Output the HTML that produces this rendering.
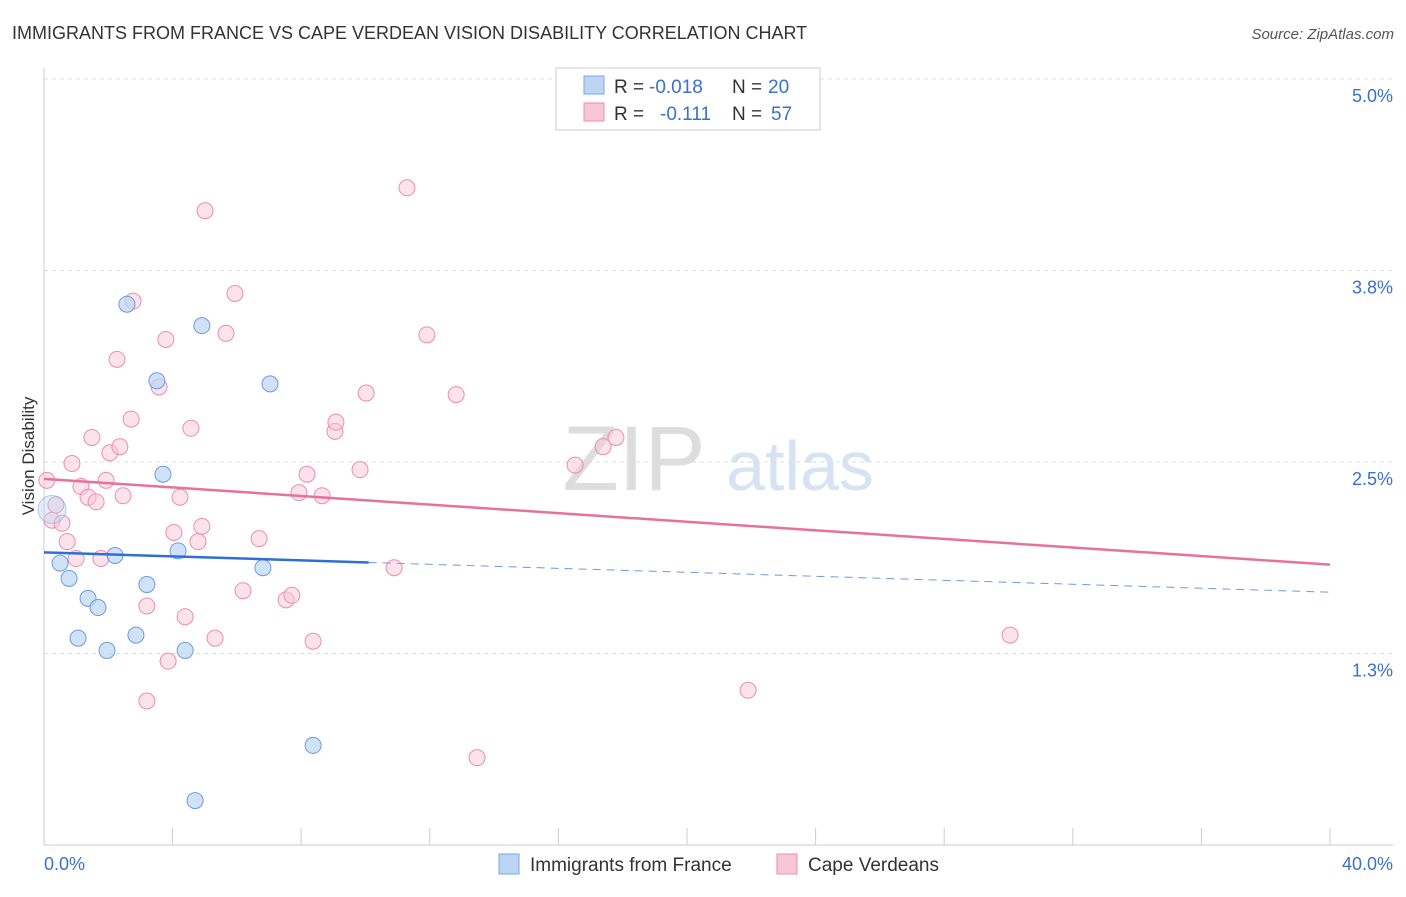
<!DOCTYPE html>
<html><head><meta charset="utf-8"><style>
body{margin:0;background:#fff;font-family:"Liberation Sans",sans-serif}
svg text{font-family:"Liberation Sans",sans-serif}
</style></head><body>
<svg id="c" width="1406" height="892">
<text x="12" y="39" font-size="18" fill="#333">IMMIGRANTS FROM FRANCE VS CAPE VERDEAN VISION DISABILITY CORRELATION CHART</text>
<text x="1394" y="39" font-size="15" fill="#555" font-style="italic" text-anchor="end">Source: ZipAtlas.com</text>
<text x="634" y="490" font-size="92" fill="#ddd" font-family="Liberation Serif" text-anchor="middle">ZIP</text>
<text x="800" y="490" font-size="70" fill="#d5e3f3" text-anchor="middle">atlas</text>
<text transform="translate(34,456) rotate(-90)" font-size="17" fill="#333" text-anchor="middle">Vision Disability</text>
<g id="grid"></g><g id="marks"></g>
<g>
<rect x="556" y="68" width="264" height="62" fill="#fff" stroke="#ccc"/>
<rect x="584" y="76" width="20" height="18" fill="#bcd5f5" stroke="#7aa6e0"/>
<rect x="584" y="103" width="20" height="18" fill="#f9c6d5" stroke="#eb8fab"/>
<text y="93" font-size="19" fill="#333"><tspan x="614">R =</tspan><tspan x="649" fill="#3b6fd0">-0.018</tspan><tspan x="732">N =</tspan><tspan x="768" fill="#3b6fd0">20</tspan></text>
<text y="120" font-size="19" fill="#333"><tspan x="614">R =</tspan><tspan x="660" fill="#3b6fd0">-0.111</tspan><tspan x="732">N =</tspan><tspan x="771" fill="#3b6fd0">57</tspan></text>
</g>
<g>
<rect x="499" y="854" width="20" height="20" fill="#bcd5f5" stroke="#7aa6e0"/>
<text x="530" y="871" font-size="19" fill="#333">Immigrants from France</text>
<rect x="777" y="854" width="20" height="20" fill="#f9c6d5" stroke="#eb8fab"/>
<text x="808" y="871" font-size="19" fill="#333">Cape Verdeans</text>
</g>
<text x="44" y="870" font-size="18" fill="#3b6fd0">0.0%</text>
<text x="1393" y="870" font-size="18" fill="#3b6fd0" text-anchor="end">40.0%</text>
</svg>
<script>
const yTicks=[5.0,3.75,2.5,1.25];
const yTickLabels=["5.0%","3.8%","2.5%","1.3%"];
const franceX=[0.25,0.50,0.78,1.06,1.37,1.68,1.96,2.21,2.58,2.86,3.20,3.51,3.70,4.17,4.39,4.70,4.91,6.81,7.03,8.37];
const franceY=[2.19,1.84,1.74,1.35,1.61,1.55,1.27,1.89,3.53,1.37,1.70,3.03,2.42,1.92,1.27,0.29,3.39,1.81,3.01,0.65];
const capeX=[0.09,0.25,0.37,0.56,0.72,0.87,1.00,1.15,1.37,1.49,1.62,1.77,1.93,2.05,2.27,2.36,2.46,2.71,2.77,3.20,3.20,3.58,3.79,3.86,4.04,4.23,4.39,4.57,4.79,4.91,5.01,5.32,5.66,5.94,6.19,6.69,7.53,7.71,7.93,8.18,8.37,8.65,9.05,9.08,9.83,10.02,10.89,11.29,11.91,12.82,13.47,16.52,17.39,17.79,21.90,30.05];
const capeY=[2.38,2.12,2.22,2.10,1.98,2.49,1.87,2.34,2.27,2.66,2.24,1.87,2.38,2.56,3.17,2.60,2.28,2.78,3.55,1.56,0.94,2.99,3.30,1.20,2.04,2.27,1.49,2.72,1.98,2.08,4.14,1.35,3.34,3.60,1.66,2.00,1.60,1.63,2.30,2.42,1.33,2.28,2.70,2.76,2.45,2.95,1.81,4.29,3.33,2.94,0.57,2.48,2.60,2.66,1.01,1.37];
const franceTrend=[1.91,1.65];
const capeTrend=[2.39,1.83];
const X=v=>44+v*32.15, Y=v=>845-v*153.2;
const NS="http://www.w3.org/2000/svg";
function mk(t,a,p){const e=document.createElementNS(NS,t);for(const k in a)e.setAttribute(k,a[k]);p.appendChild(e);return e;}
const g=document.getElementById('grid'), m=document.getElementById('marks');
yTicks.forEach((v,i)=>{
 const l=mk('line',{x1:44,x2:1393,y1:Y(v),y2:Y(v),stroke:'#ddd','stroke-dasharray':'4,4'},g);
 
 
 const t=mk('text',{x:1393,y:Y(v)+23,'font-size':18,fill:'#3b6fd0','text-anchor':'end'},g);
 t.textContent=yTickLabels[i];
 
 
});
mk('line',{x1:44,x2:44,y1:68,y2:845,stroke:'#ccc'},g);
mk('line',{x1:44,x2:1393,y1:845,y2:845,stroke:'#ccc'},g);
for(let i=0;i<=10;i++){const l=mk('line',{x1:X(i*4),x2:X(i*4),y1:828,y2:845,stroke:'#ccc'},g);
 
 }
capeX.forEach((x,i)=>{const c=mk('circle',{cx:X(x),cy:Y(capeY[i]),r:8,fill:'#f9c6d5','fill-opacity':0.5,stroke:'#eb8fab','stroke-width':1},m);
 
 });
franceX.forEach((x,i)=>{const c=mk('circle',{cx:X(x),cy:Y(franceY[i]),r:i==0?14:8,fill:'#bcd5f5','fill-opacity':i==0?0.4:0.7,stroke:'#6d9ae0','stroke-width':1,'stroke-opacity':i==0?0.5:1},m);
 
 });
const fy=x=>franceTrend[0]+(franceTrend[1]-franceTrend[0])*x/40;
let l1=mk('line',{x1:X(0),y1:Y(fy(0)),x2:X(10.1),y2:Y(fy(10.1)),stroke:'#2d6fd6','stroke-width':2.5},m);


let l2=mk('line',{x1:X(10.1),y1:Y(fy(10.1)),x2:X(40),y2:Y(fy(40)),stroke:'#6d9ae0','stroke-width':1,'stroke-dasharray':'8,6'},m);


let l3=mk('line',{x1:X(0),y1:Y(capeTrend[0]),x2:X(40),y2:Y(capeTrend[1]),stroke:'#e8719a','stroke-width':2.5},m);


</script>
</body></html>
